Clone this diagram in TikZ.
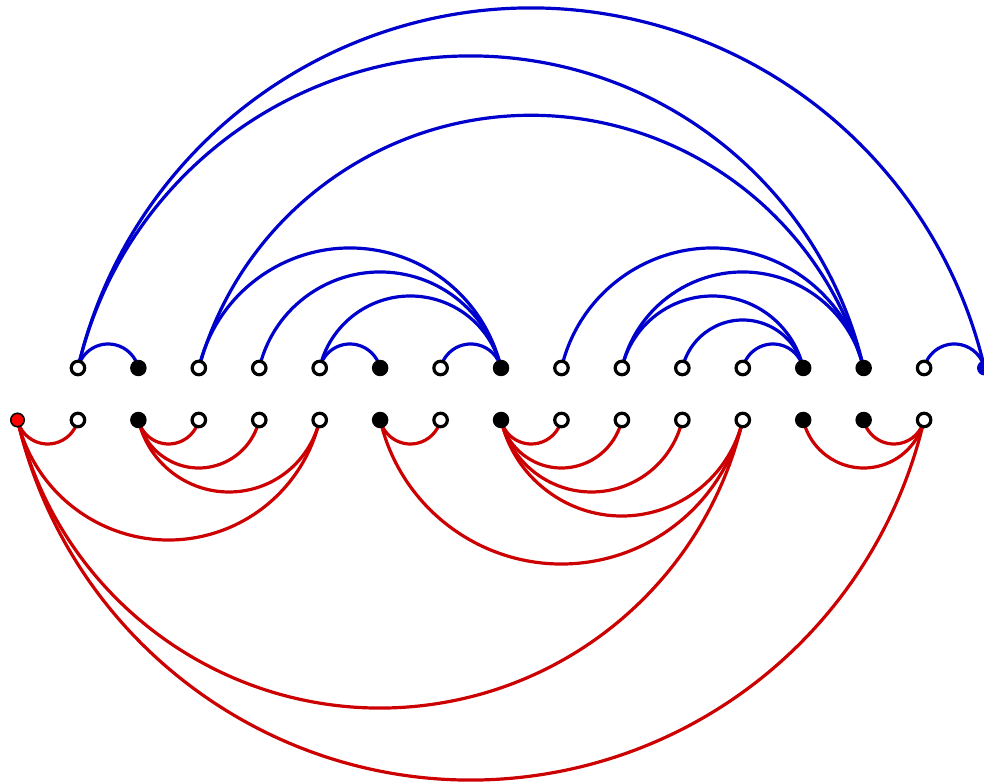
\documentclass[tikz,border=0pt]{standalone}
\usetikzlibrary{calc,backgrounds}
\definecolor{arcblue}{RGB}{0,0,204}
\definecolor{arcred}{RGB}{204,0,0}
\newcommand\toparc[3][0.397]{%
  \draw[bluearc] let \p1=(#2.center),\p2=(#3.center),\n1={\x2-\x1},
    \n2={\n1*(0.25+#1*#1)/(2*#1)},\n3={asin(#1/(0.25+#1*#1))} in
    (\p1) arc[start angle={90+\n3},end angle={90-\n3},radius=\n2];}
\newcommand\botarc[3][0.397]{%
  \draw[redarc] let \p1=(#2.center),\p2=(#3.center),\n1={\x2-\x1},
    \n2={\n1*(0.25+#1*#1)/(2*#1)},\n3={asin(#1/(0.25+#1*#1))} in
    (\p1) arc[start angle={270-\n3},end angle={270+\n3},radius=\n2];}
\begin{document}
\begin{tikzpicture}[x=1pt,y=1pt,
  opennode/.style={circle,draw=black,fill=white,line width=3.2pt,minimum size=13.5pt,inner sep=0pt},
  fullnode/.style={circle,fill=black,minimum size=16.5pt,inner sep=0pt},
  rootnode/.style={circle,fill=red,draw=black,line width=1.5pt,minimum size=13.5pt,inner sep=0pt},
  bluenode/.style={circle,fill=arcblue,draw=arcblue,line width=1pt,minimum size=14pt,inner sep=0pt},
  bluearc/.style={draw=arcblue,line width=3.2pt},
  redarc/.style={draw=arcred,line width=3.2pt}]
\useasboundingbox (0,0) rectangle (984,783);
% top row
\foreach \i/\t in {1/opennode,2/fullnode,3/opennode,4/opennode,5/opennode,6/fullnode,
  7/opennode,8/fullnode,9/opennode,10/opennode,11/opennode,12/opennode,13/fullnode,
  14/fullnode,15/opennode,16/bluenode}
  \node[\t] (t\i) at ({17.5+60.44*\i},415) {};
% bottom row
\foreach \i/\t in {0/rootnode,1/opennode,2/fullnode,3/opennode,4/opennode,5/opennode,
  6/fullnode,7/opennode,8/fullnode,9/opennode,10/opennode,11/opennode,12/opennode,
  13/fullnode,14/fullnode,15/opennode}
  \node[\t] (b\i) at ({17.5+60.44*\i},363) {};
\begin{pgfonlayer}{background}
  \toparc{t1}{t2}
  \toparc{t1}{t14}
  \toparc{t1}{t16}
  \toparc[0.38]{t3}{t14}
  \toparc{t3}{t8}
  \toparc{t4}{t8}
  \toparc{t5}{t8}
  \toparc{t5}{t6}
  \toparc{t7}{t8}
  \toparc{t9}{t14}
  \toparc{t10}{t14}
  \toparc{t10}{t13}
  \toparc{t11}{t13}
  \toparc{t12}{t13}
  \toparc{t15}{t16}
  \botarc{b0}{b1}
  \botarc{b0}{b5}
  \botarc{b0}{b12}
  \botarc{b0}{b15}
  \botarc{b2}{b3}
  \botarc{b2}{b4}
  \botarc{b2}{b5}
  \botarc{b6}{b7}
  \botarc{b6}{b12}
  \botarc{b8}{b9}
  \botarc{b8}{b10}
  \botarc{b8}{b11}
  \botarc{b8}{b12}
  \botarc{b13}{b15}
  \botarc{b14}{b15}
\end{pgfonlayer}
\end{tikzpicture}
\end{document}
